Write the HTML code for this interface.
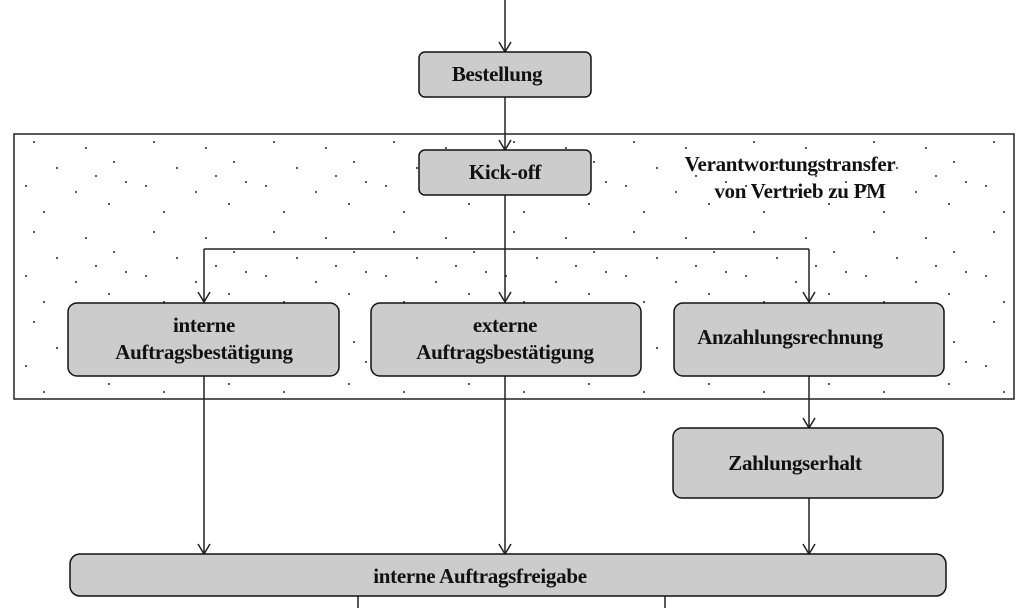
<!DOCTYPE html>
<html><head><meta charset="utf-8"><style>
html,body{margin:0;padding:0;background:#fff;}
svg{display:block;}
text{font-family:"Liberation Serif",serif;font-weight:bold;font-size:21px;fill:#111;letter-spacing:-0.3px;}
</style></head><body>
<svg width="1024" height="608" viewBox="0 0 1024 608">
<defs>
<pattern id="dots" x="14" y="134" width="120" height="90" patternUnits="userSpaceOnUse">
<g fill="#222">
<circle cx="20" cy="8" r="1"/><circle cx="72" cy="14" r="1"/><circle cx="43" cy="34" r="1"/>
<circle cx="100" cy="28" r="1"/><circle cx="12" cy="52" r="1"/><circle cx="62" cy="58" r="1"/>
<circle cx="95" cy="70" r="1"/><circle cx="30" cy="78" r="1"/><circle cx="112" cy="48" r="1"/>
<circle cx="82" cy="42" r="1"/>
</g>
</pattern>
</defs>
<g stroke="#222" stroke-width="1.5" fill="none">
<rect x="14" y="134" width="1000" height="265" fill="url(#dots)"/>
</g>
<g stroke="#222" stroke-width="1.5" fill="none">
<path d="M505 0V52M505 97V150M505 195V302M204 249H809M204 249V302M809 249V302M204 376V554M505 376V554M809 376V428M809 498V554M358 596V608M665 596V608"/>
<path d="M499 42L505 52L511 42M499 140L505 150L511 140M198 292L204 302L210 292M499 292L505 302L511 292M803 292L809 302L815 292M803 418L809 428L815 418M198 544L204 554L210 544M499 544L505 554L511 544M803 544L809 554L815 544"/>
</g>
<g fill="#cccccc" stroke="#111" stroke-width="1.5">
<rect x="419" y="52" width="172" height="45" rx="6"/>
<rect x="419" y="150" width="172" height="45" rx="6"/>
<rect x="68" y="303" width="271" height="73" rx="9"/>
<rect x="371" y="303" width="270" height="73" rx="9"/>
<rect x="674" y="303" width="270" height="73" rx="9"/>
<rect x="673" y="428" width="270" height="70" rx="9"/>
<rect x="70" y="554" width="876" height="42" rx="10"/>
</g>
<g text-anchor="middle">
<text x="497" y="81">Bestellung</text>
<text x="505" y="179">Kick-off</text>
<text x="204" y="332">interne</text>
<text x="204" y="359">Auftragsbestätigung</text>
<text x="505" y="332">externe</text>
<text x="505" y="359">Auftragsbestätigung</text>
<text x="790" y="344">Anzahlungsrechnung</text>
<text x="795" y="470">Zahlungserhalt</text>
<text x="480" y="583">interne Auftragsfreigabe</text>
<text x="790" y="171">Verantwortungstransfer</text>
<text x="800" y="198">von Vertrieb zu PM</text>
</g>
</svg>
</body></html>
